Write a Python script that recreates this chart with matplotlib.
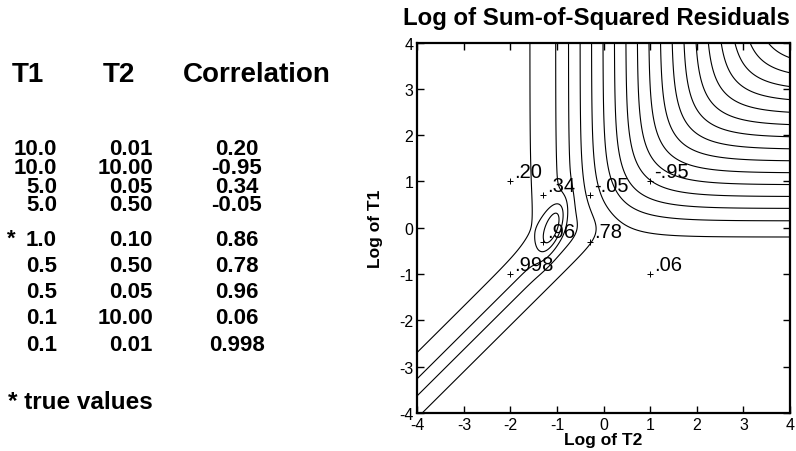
import numpy as np
import matplotlib.pyplot as plt

plt.rcParams['font.family'] = ['Liberation Sans', 'DejaVu Sans']
plt.rcParams['axes.unicode_minus'] = False

# parameter pairs and the correlation of their estimates
t1_text = ['10.0', '10.0', '5.0', '5.0', '1.0', '0.5', '0.5', '0.1', '0.1']
t2_text = ['0.01', '10.00', '0.05', '0.50', '0.10', '0.50', '0.05', '10.00', '0.01']
corr_text = ['0.20', '-0.95', '0.34', '-0.05', '0.86', '0.78', '0.96', '0.06', '0.998']
true_row = 4

t1_vals = np.array([float(v) for v in t1_text])
t2_vals = np.array([float(v) for v in t2_text])

# residual surface on a log10(T2) x log10(T1) grid
log_t = np.linspace(-4, 4, 401)
U, V = np.meshgrid(log_t, log_t)


def softmin(a, b, s):
    return -s * np.logaddexp(-a / s, -b / s)


def softmax(a, b, s):
    return s * np.logaddexp(a / s, b / s)


def softplus(z):
    return np.logaddexp(0, z)


# both time constants too long: misfit grows with the shorter one
t2_side = 5 + (U + 0.26) / 0.245 + 0.2 * softplus((-1.1 - U) / 0.1)
t1_side = 5 + (V + 0.09) / 0.255
rate_term = softmin(t2_side, t1_side, 2.5)
# both too short: misfit depends on the ratio T1/T2 only
ratio = V - U
ratio_term = 0.6 + 4.0 / (1 + np.exp((ratio - 0.52) / 0.36))
# well around the least-squares minimum near the true values
cu = np.log10(t2_vals[true_row]) - 0.1
cv = np.log10(t1_vals[true_row])
th = np.deg2rad(70)
a1 = (U - cu) * np.cos(th) + (V - cv) * np.sin(th)
a2 = -(U - cu) * np.sin(th) + (V - cv) * np.cos(th)
well = 2.6 * np.exp(-(a1 / 0.55) ** 2 - (a2 / 0.19) ** 2)

surface = softmax(rate_term, ratio_term, 0.6) - well
levels = np.arange(0, 22)

W, H = 796, 452
fig = plt.figure(figsize=(W / 100, H / 100), dpi=100)


def fx(px):
    return px / W


def fy(py):
    return 1 - py / H


# table on the left
head_kw = dict(fontsize=20, fontweight='bold', va='center')
fig.text(fx(28), fy(75), 'T1', ha='center', **head_kw)
fig.text(fx(119), fy(75), 'T2', ha='center', **head_kw)
fig.text(fx(257), fy(75), 'Correlation', ha='center', **head_kw)

row_y = [150, 168, 188, 206, 241, 267, 293, 319, 346]
row_kw = dict(fontsize=16, fontweight='bold', va='center')
for i, yy in enumerate(row_y):
    fig.text(fx(57), fy(yy), t1_text[i], ha='right', **row_kw)
    fig.text(fx(153), fy(yy), t2_text[i], ha='right', **row_kw)
    fig.text(fx(237), fy(yy), corr_text[i], ha='center', **row_kw)
fig.text(fx(11), fy(row_y[true_row] - 2), '*', ha='center', **row_kw)
fig.text(fx(8), fy(403), '* true values', ha='left', fontsize=17.5,
         fontweight='bold', va='center')

# contour plot
ax = fig.add_axes([417.3 / W, 1 - 414 / H, 372.7 / W, 370.5 / H])
ax.contour(U, V, surface, levels=levels, colors='black', linewidths=0.8,
           linestyles='solid')

keep = np.arange(len(t1_text)) != true_row
px = np.log10(t2_vals[keep])
py = np.log10(t1_vals[keep])
ax.plot(px, py, '+', color='black', ms=5, mew=0.7)
for xx, yy, c in zip(px, py, np.array(corr_text)[keep]):
    ax.annotate(c.replace('0.', '.', 1), (xx, yy), xytext=(4, 10),
                textcoords='offset pixels', fontsize=14.5, ha='left', va='center')

ax.set_xlim(-4, 4)
ax.set_ylim(-4, 4)
ax.set_xticks(range(-4, 5))
ax.set_yticks(range(-4, 5))
ax.tick_params(direction='in', top=True, right=True, length=5, width=1,
               labelsize=11.5, pad=3)
for sp in ax.spines.values():
    sp.set_linewidth(1.6)

ax.set_xlabel('Log of T2', fontsize=12.5, fontweight='bold')
ax.set_ylabel('Log of T1', fontsize=12.5, fontweight='bold')
ax.xaxis.set_label_coords(0.5, -0.052)
ax.yaxis.set_label_coords(-0.092, 0.5)
fig.text(fx(596), fy(18), 'Log of Sum-of-Squared Residuals', ha='center',
         va='center', fontsize=17.3, fontweight='bold')

fig.savefig('out.png', dpi=100)
